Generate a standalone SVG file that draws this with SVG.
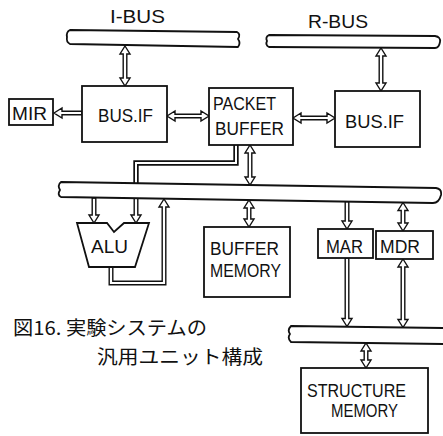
<svg xmlns="http://www.w3.org/2000/svg" width="443" height="436" viewBox="0 0 443 436">
<style>
.bg{fill:#fff}
.box{fill:#fff;stroke:#111;stroke-width:1.8}
.bus{fill:#fff;stroke:#111;stroke-width:1.8;stroke-linejoin:round}
.arr{fill:#fff;stroke:#111;stroke-width:1.4;stroke-linejoin:miter}
.dl{fill:none;stroke:#111;stroke-width:5.4}
.dlw{fill:none;stroke:#fff;stroke-width:2}
.t{font-family:"Liberation Sans",Arial,sans-serif;font-size:19px;fill:#111}
.j{font-family:"Noto Sans CJK JP",sans-serif;font-size:19px;fill:#111}
</style>
<rect class="bg" x="0" y="0" width="443" height="436"/>
<g id="connectors">
<polygon class="arr" points="125,46 130,54 126.8,54 126.8,78 130,78 125,86 120,78 123.2,78 123.2,54 120,54"/>
<polygon class="arr" points="381,48 386,56 382.8,56 382.8,83 386,83 381,91 376,83 379.2,83 379.2,56 376,56"/>
<polygon class="arr" points="54,113 62,108 62,111.2 82,111.2 82,114.8 62,114.8 62,118"/>
<polygon class="arr" points="167,116 175,111 175,114.2 201,114.2 201,111 209,116 201,121 201,117.8 175,117.8 175,121"/>
<polygon class="arr" points="293,118 301,113 301,116.2 327,116.2 327,113 335,118 327,123 327,119.8 301,119.8 301,123"/>
<polygon class="arr" points="250,145 255,153 251.8,153 251.8,177 255,177 250,185 245,177 248.2,177 248.2,153 245,153"/>
<polyline class="dl" points="236,145 236,163 136,163 136,184"/>
<polyline class="dlw" points="236,145 236,163 136,163 136,184"/>
<polygon class="arr" points="92.2,198 95.8,198 95.8,215 99,215 94,223 89,215 92.2,215"/>
<polygon class="arr" points="134.2,198 137.8,198 137.8,215 141,215 136,223 131,215 134.2,215"/>
<polygon class="arr" points="109.2,267 109.2,284.8 165.8,284.8 165.8,207 169,207 164,199 159,207 162.2,207 162.2,281.2 112.8,281.2 112.8,267"/>
<polygon class="arr" points="249,200 254,208 250.8,208 250.8,219 254,219 249,227 244,219 247.2,219 247.2,208 244,208"/>
<polygon class="arr" points="345.2,201.5 348.8,201.5 348.8,221 352,221 347,229 342,221 345.2,221"/>
<polygon class="arr" points="403,202.5 408,210.5 404.8,210.5 404.8,223 408,223 403,231 398,223 401.2,223 401.2,210.5 398,210.5"/>
<polygon class="arr" points="345.2,258 348.8,258 348.8,318.5 352,318.5 347,326.5 342,318.5 345.2,318.5"/>
<polygon class="arr" points="403,259 408,267 404.8,267 404.8,319.5 408,319.5 403,327.5 398,319.5 401.2,319.5 401.2,267 398,267"/>
<polygon class="arr" points="366,343 371,351 367.8,351 367.8,360 371,360 366,368 361,360 364.2,360 364.2,351 361,351"/>
</g>
<g id="i-bus">
<path class="bus" d="M70,30 L237,32 Q241,34 238,39 Q241,43 238,47 L70,44 Q66,42 67,37 Q66,32 70,30 Z"/>
<text class="t" x="110" y="23" textLength="55" lengthAdjust="spacingAndGlyphs">I-BUS</text>
</g>
<g id="r-bus">
<path class="bus" d="M269,35 L435,36 Q441,37 440,42 Q439,48 435,48 L269,47 Q265,45 267,41 Q265,37 269,35 Z"/>
<text class="t" x="308" y="28" textLength="60" lengthAdjust="spacingAndGlyphs">R-BUS</text>
</g>
<g id="main-bus">
<path class="bus" d="M61,182 L436,188 Q442,189 441,195 Q439,203 433,203 L61,197 Q57,195 60,190 Q57,185 61,182 Z"/>
</g>
<g id="lower-bus">
<path class="bus" d="M444,328 L291,326 Q287,330 290,334 Q287,338 291,342 L444,344 Z"/>
</g>
<g id="mir">
<rect class="box" x="9" y="99" width="44" height="26"/>
<text class="t" x="12" y="120" textLength="35" lengthAdjust="spacingAndGlyphs">MIR</text>
</g>
<g id="bus-if-left">
<rect class="box" x="82" y="86" width="85" height="56"/>
<text class="t" x="98" y="122" textLength="55" lengthAdjust="spacingAndGlyphs">BUS.IF</text>
</g>
<g id="packet-buffer">
<rect class="box" x="209" y="88" width="84" height="57"/>
<text class="t" x="213" y="110" textLength="63" lengthAdjust="spacingAndGlyphs">PACKET</text>
<text class="t" x="215" y="135" textLength="69" lengthAdjust="spacingAndGlyphs">BUFFER</text>
</g>
<g id="bus-if-right">
<rect class="box" x="335" y="91" width="85" height="56"/>
<text class="t" x="345" y="128" textLength="59" lengthAdjust="spacingAndGlyphs">BUS.IF</text>
</g>
<g id="alu">
<polygon class="box" points="77,223 107,223 114,232 124,223 149,223 135,267 89,267"/>
<text class="t" x="91" y="253" textLength="37" lengthAdjust="spacingAndGlyphs">ALU</text>
</g>
<g id="buffer-memory">
<rect class="box" x="204" y="227" width="86" height="70"/>
<text class="t" x="210" y="255" textLength="69" lengthAdjust="spacingAndGlyphs">BUFFER</text>
<text class="t" x="210" y="277" textLength="71" lengthAdjust="spacingAndGlyphs">MEMORY</text>
</g>
<g id="mar">
<rect class="box" x="318" y="229" width="55" height="29"/>
<text class="t" x="326" y="253" textLength="37" lengthAdjust="spacingAndGlyphs">MAR</text>
</g>
<g id="mdr">
<rect class="box" x="376" y="231" width="57" height="28"/>
<text class="t" x="380" y="253" textLength="40" lengthAdjust="spacingAndGlyphs">MDR</text>
</g>
<g id="structure-memory">
<rect class="box" x="301" y="368" width="127" height="65"/>
<text class="t" x="307" y="397" textLength="99" lengthAdjust="spacingAndGlyphs">STRUCTURE</text>
<text class="t" x="331" y="417" textLength="67" lengthAdjust="spacingAndGlyphs">MEMORY</text>
</g>
<g id="caption">
<text class="j" x="13" y="335" textLength="194" lengthAdjust="spacingAndGlyphs">図16. 実験システムの</text>
<text class="j" x="97" y="364" textLength="166" lengthAdjust="spacingAndGlyphs">汎用ユニット構成</text>
</g>
</svg>
